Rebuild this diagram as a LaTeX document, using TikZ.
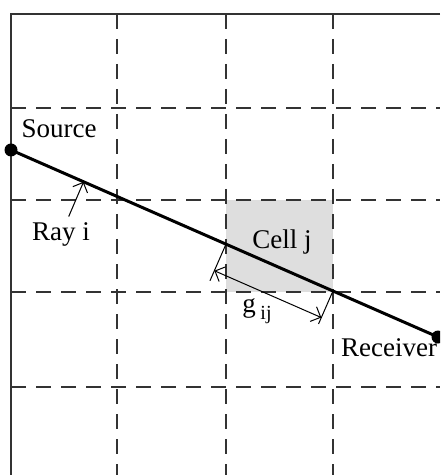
\documentclass[tikz,border=0pt]{standalone}
\usepackage{fontspec}
\setmainfont{Liberation Serif}
\usetikzlibrary{arrows.meta,calc}
\definecolor{CellGray}{RGB}{222,222,222}
\tikzset{
  gridline/.style={dash pattern=on 7.5pt off 5pt,line width=0.8pt,black!80},
  border/.style={line width=0.8pt,black!80},
  ray/.style={line width=1.5pt},
  dot/.style={circle,fill,inner sep=0pt,minimum size=6.5pt},
  tag/.style={font=\fontsize{13.5}{16}\selectfont,inner sep=1pt},
  cellbox/.style={fill=CellGray,inner sep=0pt,minimum width=53.5pt,minimum height=46pt},
  pointer/.style={-{Straight Barb[length=4pt]},line width=0.5pt},
  dimarrow/.style={{Straight Barb[length=4pt]}-{Straight Barb[length=4pt]},line width=0.5pt},
  tick/.style={line width=0.5pt}
}
\begin{document}
\begin{tikzpicture}[x=0.5pt,y=-0.5pt]
  \useasboundingbox (0,0) rectangle (440,475);
  \clip (0,0) rectangle (440,475);
  % shaded cell
  \node[cellbox] (cell) at (279.5,246) {};
  % grid
  \foreach \x in {117,226,333}
    \draw[gridline] (\x,14) -- (\x,475);
  \foreach \y in {108,200,292,387}
    \draw[gridline] (11,\y) -- (440,\y);
  \draw[border] (440,14) -- (11,14) -- (11,475);
  % ray
  \node[dot] (src) at (11,150) {};
  \node[dot] (rcv) at (438,337) {};
  \draw[ray] (src.center) -- (rcv.center);
  \node[tag] (srclbl) at (59,128.5) {Source};
  \node[tag] (rcvlbl) at (389,348) {Receiver};
  \node[tag] (celllbl) at (282,242) {Cell j};
  % ray label
  \coordinate (rayhit) at ($(src.center)!0.17!(rcv.center)$);
  \node[tag] (raylbl) at (61,234.5) {Ray i};
  \draw[pointer,shorten <=2pt] (raylbl) -- (rayhit);
  % path length in the cell
  \coordinate (ga) at ($(src.center)!0.5035!(rcv.center)$);
  \coordinate (gb) at ($(src.center)!0.754!(rcv.center)$);
  \coordinate (gatick) at ($(ga)!20pt!-90:(gb)$);
  \coordinate (gbtick) at ($(gb)!18pt!90:(ga)$);
  \coordinate (gaend) at ($(ga)!14.5pt!-90:(gb)$);
  \coordinate (gbend) at ($(gb)!14.5pt!90:(ga)$);
  \draw[tick] (ga) -- (gatick);
  \draw[tick] (gb) -- (gbtick);
  \draw[dimarrow] (gaend) -- (gbend);
  \node[tag] (glbl) at (257,311) {g\,\raisebox{-0.6ex}{\fontsize{10}{12}\selectfont ij}};
\end{tikzpicture}
\end{document}
